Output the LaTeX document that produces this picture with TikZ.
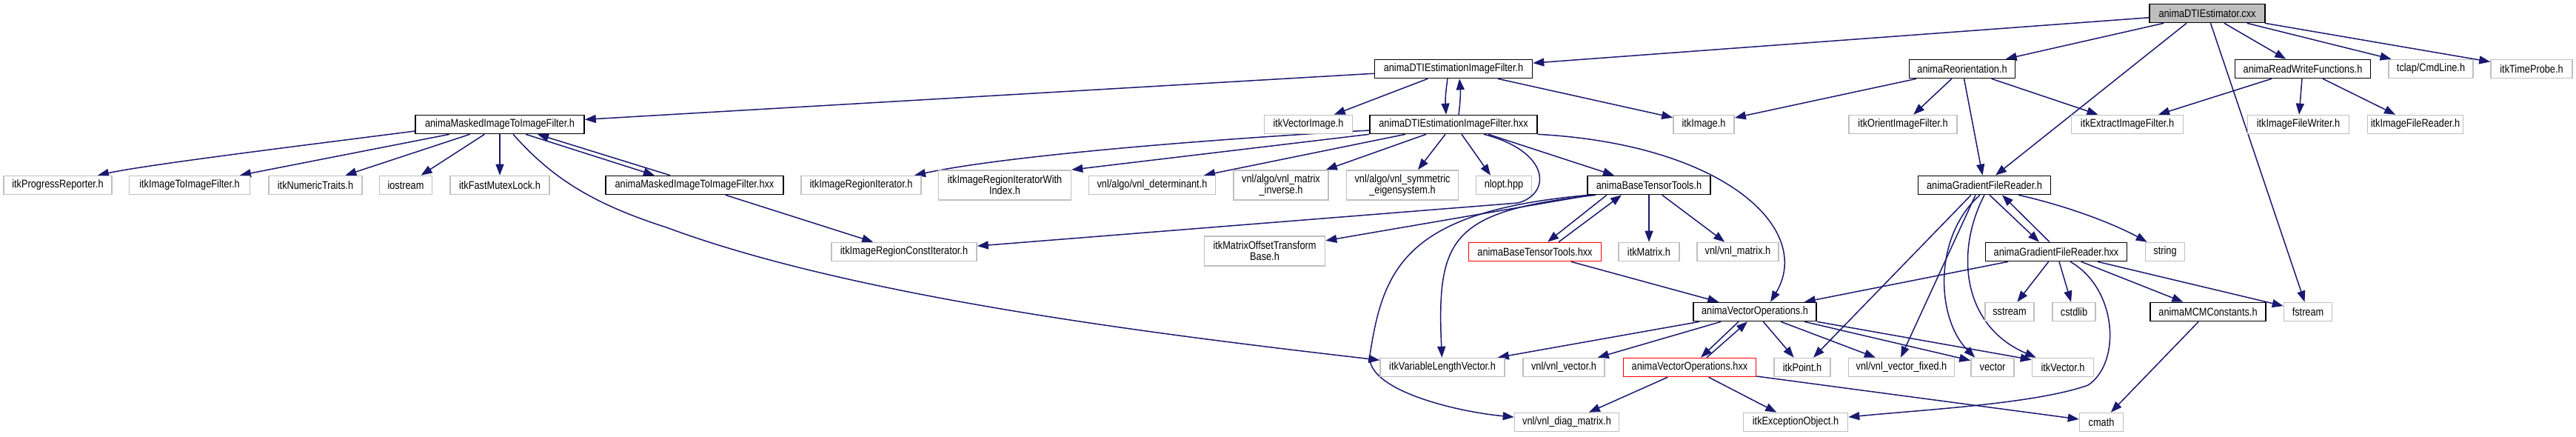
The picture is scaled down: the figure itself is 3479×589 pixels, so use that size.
\documentclass[tikz,border=0pt]{standalone}
\usepackage{fontspec}
\setmainfont{Liberation Sans}[FakeStretch=0.85]
\usetikzlibrary{arrows.meta,calc,backgrounds}
\definecolor{edgec}{HTML}{191970}
\definecolor{extc}{HTML}{BFBFBF}
\definecolor{redc}{HTML}{FF0000}
\tikzset{
  box/.style={draw, fill=white, inner sep=0pt, minimum height=12.5pt, align=center,
    font=\fontsize{7.5pt}{7.6pt}\selectfont, line width=0.8pt},
  ext/.style={box, draw=extc},
  doc/.style={box, draw=black},
  undoc/.style={box, draw=redc},
  root/.style={box, draw=black, fill=extc},
  two/.style={minimum height=20pt},
  bw/.style={minimum width=#1*0.5pt},
  e/.style={draw=edgec, line width=0.75pt, -{Triangle[length=7.5pt,width=5.5pt]}}
}
\begin{document}
\begin{tikzpicture}[x=0.5pt,y=-0.5pt]
\useasboundingbox (0,0) rectangle (3479,589);
% row 0
\node[root, bw=156] (cxx) at (2981,18) {animaDTIEstimator.cxx};
% row 1
\node[doc, bw=213] (dtih) at (1963,93) {animaDTIEstimationImageFilter.h};
\node[doc, bw=143] (reo) at (2650,93) {animaReorientation.h};
\node[doc, bw=183] (rwf) at (3110,93) {animaReadWriteFunctions.h};
\node[ext, bw=114] (tclap) at (3283,93) {tclap/CmdLine.h};
\node[ext, bw=110] (timep) at (3419,93) {itkTimeProbe.h};
% row 2
\node[doc, bw=228] (maskh) at (675,168) {animaMaskedImageToImageFilter.h};
\node[ext, bw=119] (vecimg) at (1767,168) {itkVectorImage.h};
\node[doc, bw=226] (dtihxx) at (1963,168) {animaDTIEstimationImageFilter.hxx};
\node[ext, bw=82] (itkimage) at (2301,168) {itkImage.h};
\node[ext, bw=146] (orient) at (2570,168) {itkOrientImageFilter.h};
\node[ext, bw=151] (extract) at (2873,168) {itkExtractImageFilter.h};
\node[ext, bw=137] (writer) at (3104,168) {itkImageFileWriter.h};
\node[ext, bw=129] (reader) at (3262,168) {itkImageFileReader.h};
% row 3
\node[ext, bw=146] (progress) at (78,250) {itkProgressReporter.h};
\node[ext, bw=163] (i2i) at (256,250) {itkImageToImageFilter.h};
\node[ext, bw=126] (numtr) at (426,250) {itkNumericTraits.h};
\node[ext, bw=71] (iostream) at (548,250) {iostream};
\node[ext, bw=134] (mutex) at (675,250) {itkFastMutexLock.h};
\node[doc, bw=240] (maskhxx) at (938,250) {animaMaskedImageToImageFilter.hxx};
\node[ext, bw=162] (regit) at (1163,250) {itkImageRegionIterator.h};
\node[ext, two, bw=179] (regitidx) at (1357,250) {itkImageRegionIteratorWith\\Index.h};
\node[ext, bw=171] (det) at (1556,250) {vnl/algo/vnl\_determinant.h};
\node[ext, two, bw=128] (inv) at (1730,250) {vnl/algo/vnl\_matrix\\\_inverse.h};
\node[ext, two, bw=151] (sym) at (1894,250) {vnl/algo/vnl\_symmetric\\\_eigensystem.h};
\node[ext, bw=75] (nlopt) at (2031,250) {nlopt.hpp};
\node[doc, bw=166] (btth) at (2227,250) {animaBaseTensorTools.h};
\node[doc, bw=179] (gfrh) at (2680,250) {animaGradientFileReader.h};
% row 4
\node[ext, bw=196] (constit) at (1221,340) {itkImageRegionConstIterator.h};
\node[ext, two, bw=163] (motb) at (1708,339) {itkMatrixOffsetTransform\\Base.h};
\node[undoc, bw=179] (btthxx) at (2073,340) {animaBaseTensorTools.hxx};
\node[ext, bw=82] (itkmatrix) at (2227,340) {itkMatrix.h};
\node[ext, bw=110] (vnlmatrix) at (2347,340) {vnl/vnl\_matrix.h};
\node[doc, bw=191] (gfrhxx) at (2777,340) {animaGradientFileReader.hxx};
\node[ext, bw=53] (string) at (2924,340) {string};
% row 5
\node[doc, bw=166] (vech) at (2370,421) {animaVectorOperations.h};
\node[ext, bw=66] (sstream) at (2714,421) {sstream};
\node[ext, bw=58] (cstdlib) at (2801,421) {cstdlib};
\node[doc, bw=156] (mcm) at (2982,421) {animaMCMConstants.h};
\node[ext, bw=65] (fstream) at (3117,421) {fstream};
% row 6
\node[ext, bw=168] (varlen) at (1948,496) {itkVariableLengthVector.h};
\node[ext, bw=110] (vnlvec) at (2112,496) {vnl/vnl\_vector.h};
\node[undoc, bw=179] (vechxx) at (2282,496) {animaVectorOperations.hxx};
\node[ext, bw=76] (point) at (2434,496) {itkPoint.h};
\node[ext, bw=143] (vfixed) at (2568,496) {vnl/vnl\_vector\_fixed.h};
\node[ext, bw=58] (vector) at (2691,496) {vector};
\node[ext, bw=83] (itkvec) at (2786,496) {itkVector.h};
% row 7
\node[ext, bw=141] (diag) at (2116,570) {vnl/vnl\_diag\_matrix.h};
\node[ext, bw=141] (exc) at (2425,570) {itkExceptionObject.h};
\node[ext, bw=59] (cmath) at (2838,570) {cmath};

\begin{pgfonlayer}{background}
\fill[white] (0,0) rectangle (3479,589);
% cxx
\draw[e] (cxx) -- (dtih);
\draw[e] (cxx) -- (reo);
\draw[e] ($(cxx.south)+(-28,0)$) -- ($(gfrh.north)+(15,0)$);
\draw[e] (cxx) -- (fstream);
\draw[e] (cxx) -- (rwf);
\draw[e] (cxx) -- (tclap);
\draw[e] (cxx) -- (timep);
% dtih
\draw[e] (dtih) -- (maskh);
\draw[e] (dtih) -- (vecimg);
\draw[e] ($(dtih.south)+(-8,0)$) to[bend right=6] ($(dtihxx.north)+(-10,0)$);
\draw[e] ($(dtihxx.north)+(7,0)$) to[bend right=6] ($(dtih.south)+(8,0)$);
\draw[e] (dtih) -- (itkimage);
% reo
\draw[e] (reo) -- (itkimage);
\draw[e] (reo) -- (orient);
\draw[e] (reo) -- (gfrh);
\draw[e] (reo) -- (extract);
% rwf
\draw[e] (rwf) -- (extract);
\draw[e] (rwf) -- (writer);
\draw[e] (rwf) -- (reader);
% maskh
\draw[e] ($(maskh.west)+(0,9)$) .. controls (420,195) and (200,222) .. ($(progress.north)+(54,0)$);
\draw[e] (maskh) -- (i2i);
\draw[e] (maskh) -- (numtr);
\draw[e] (maskh) -- (iostream);
\draw[e] (maskh) -- (mutex);
\draw[e] ($(maskh.south)+(18,0)$) .. controls (745,240) and (800,275) .. (900,307) .. controls (1150,400) and (1550,450) .. (varlen);
\draw[e] ($(maskh.south)+(35,0)$) -- ($(maskhxx.north)+(-54,0)$);
\draw[e] ($(maskhxx.north)+(-33,0)$) -- ($(maskh.south)+(51,0)$);
\draw[e] (maskhxx) -- (constit);
% dtihxx
\draw[e] ($(dtihxx.west)+(0,8)$) .. controls (1600,190) and (1350,212) .. ($(regit.north)+(72,0)$);
\draw[e] (dtihxx.south west) -- (regitidx.north east);
\draw[e] ($(dtihxx.south)+(-65,0)$) -- ($(det.north)+(70,0)$);
\draw[e] ($(dtihxx.south)+(-37,0)$) -- ($(inv.north east)+(-4,0)$);
\draw[e] ($(dtihxx.south)+(-11,0)$) -- ($(sym.north)+(21,0)$);
\draw[e] ($(dtihxx.south)+(11,0)$) -- ($(nlopt.north)+(-18,0)$);
\draw[e] ($(dtihxx.south)+(47,0)$) -- ($(btth.north)+(-47,0)$);
\draw[e] (dtihxx.south east) .. controls (2330,195) and (2450,310) .. ($(vech.north)+(21,0)$);
\draw[e] ($(dtihxx.south)+(41,0)$) .. controls (2095,205) and (2095,262) .. (2050,274) -- (constit);
% btth
\draw[e] ($(btth.south)+(-57,0)$) -- ($(btthxx.north)+(17,0)$);
\draw[e] ($(btthxx.north)+(32,0)$) -- ($(btth.south)+(-37,0)$);
\draw[e] (btth) -- (itkmatrix);
\draw[e] (btth) -- (vnlmatrix);
\draw[e] ($(btth.south west)+(6,0)$) -- (motb);
\draw[e] ($(btth.south west)+(12,0)$) .. controls (1960,285) and (1940,320) .. (varlen);
\draw[e] ($(btth.south west)+(3,0)$) .. controls (1900,285) and (1868,360) .. (1850,480) .. controls (1845,525) and (1960,555) .. (diag);
\draw[e] (btthxx) -- (vech);
% gfrh
\draw[e] ($(gfrh.south)+(7,0)$) -- ($(gfrhxx.north)+(-23,0)$);
\draw[e] ($(gfrhxx.north)+(-9,0)$) -- ($(gfrh.south)+(24,0)$);
\draw[e] ($(gfrh.south)+(46,0)$) .. controls (2800,280) and (2860,305) .. ($(string.north west)+(3,0)$);
\draw[e] ($(gfrh.south)+(-18,0)$) -- ($(point.north)+(15,0)$);
\draw[e] ($(gfrh.south)+(-12,0)$) -- ($(vfixed.north)+(-1,0)$);
\draw[e] ($(gfrh.south)+(-6,0)$) .. controls (2610,320) and (2615,430) .. ($(vector.north west)+(6,0)$);
\draw[e] (gfrh.south) .. controls (2640,340) and (2650,440) .. ($(itkvec.north west)+(6,0)$);
% gfrhxx
\draw[e] ($(gfrhxx.south)+(-65,0)$) -- ($(vech.north east)+(-17,0)$);
\draw[e] (gfrhxx) -- (sstream);
\draw[e] (gfrhxx) -- (cstdlib);
\draw[e] ($(gfrhxx.south)+(19,0)$) .. controls (2860,390) and (2865,490) .. (2820,520) .. controls (2750,545) and (2600,553) .. (exc);
\draw[e] (gfrhxx) -- (mcm);
\draw[e] (gfrhxx) -- (fstream);
\draw[e] (mcm) -- (cmath);
% vech
\draw[e] (vech) -- (varlen);
\draw[e] (vech) -- (vnlvec);
\draw[e] ($(vech.south)+(-22,0)$) -- ($(vechxx.north)+(15,0)$);
\draw[e] ($(vechxx.north)+(23,0)$) -- ($(vech.south)+(-10,0)$);
\draw[e] (vech) -- (point);
\draw[e] (vech) -- (vfixed);
\draw[e] ($(vech.south)+(67,0)$) -- ($(vector.north west)+(0,4)$);
\draw[e] (vech.south east) -- ($(itkvec.north west)+(0,3)$);
% vechxx
\draw[e] (vechxx) -- (diag);
\draw[e] (vechxx) -- (exc);
\draw[e] (vechxx) -- (cmath);
\end{pgfonlayer}
\end{tikzpicture}
\end{document}
